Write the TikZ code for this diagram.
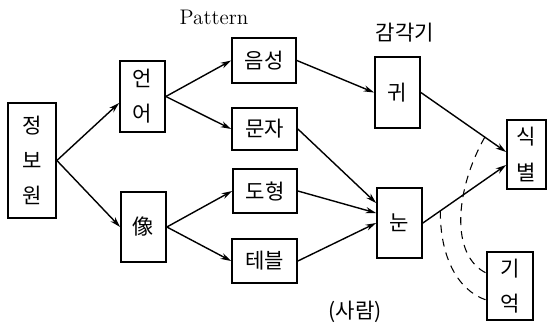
\documentclass[tikz,border=0pt]{standalone}
\usepackage{fontspec}
\newfontfamily\kr{Noto Sans CJK KR}
\usetikzlibrary{arrows.meta}
\tikzset{
	every node/.style = {font=\kr\fontsize{12pt}{20pt}\selectfont}
}
\tikzset{
	box/.style = {draw, line width=1pt, inner sep=0pt, align=center},
	flow/.style = {line width=0.8pt, -{Stealth[length=6pt, width=3.5pt]}},
	recall/.style = {line width=0.6pt, dash pattern=on 4.5pt off 3.5pt}
}

\begin{document}
\begin{tikzpicture}[x=0.02cm, y=-0.02cm]
        % one unit = one pixel of the 551 x 328 sheet, y runs downwards
        \useasboundingbox (0,0) rectangle (551,328);

        % source, kinds of information and patterns
        \node[box, minimum width=0.96cm, minimum height=2.3cm] (src) at (32,160.5) {정\\보\\원};
        \node[box, minimum width=0.9cm, minimum height=1.42cm] (lang) at (142.5,96.5) {언\\어};
        \node[box, minimum width=0.9cm, minimum height=1.4cm] (img) at (143.5,227) {像};
        \node[box, minimum width=1.28cm, minimum height=0.9cm] (voice) at (264,60.5) {음성};
        \node[box, minimum width=1.3cm, minimum height=0.84cm] (letter) at (264.5,129) {문자};
        \node[box, minimum width=1.28cm, minimum height=0.88cm] (figure) at (265,191) {도형};
        \node[box, minimum width=1.3cm, minimum height=0.88cm] (table) at (264.5,261) {테블};

        % sense organs, recognition and memory
        \node[box, minimum width=0.9cm, minimum height=1.42cm] (ear) at (397.5,92.5) {귀};
        \node[box, minimum width=0.9cm, minimum height=1.4cm] (eye) at (399.5,223) {눈};
        \node[box, minimum width=0.78cm, minimum height=1.38cm] (ident) at (526.5,154.5) {식\\별};
        \node[box, minimum width=0.92cm, minimum height=1.36cm] (mem) at (510,286) {기\\억};

        % headings
        \node[font=\rmfamily\large] (pattern) at (214,17) {Pattern};
        \node (organ) at (405,33) {감각기};
        \node (human) at (355,312) {(사람)};

        % flow of information
        \draw[flow] (src.east) -- ([yshift=-0.13cm]lang.west);
        \draw[flow] (src.east) -- (img.west);
        \draw[flow] (lang.east) -- (voice.west);
        \draw[flow] (lang.east) -- (letter.west);
        \draw[flow] (img.east) -- (figure.west);
        \draw[flow] (img.east) -- (table.west);
        \draw[flow] (voice.east) -- (ear.west);
        \draw[flow] (letter.east) -- ([yshift=0.4cm]eye.west);
        \draw[flow] (figure.east) -- ([yshift=0.2cm]eye.west);
        \draw[flow] (table.east) -- (eye.west);
        \draw[flow] (ear.east) -- coordinate[pos=0.75] (tapA) ([yshift=0.05cm]ident.west);
        \draw[flow] (eye.east) -- coordinate[pos=0.21] (tapB) ([yshift=-0.21cm]ident.west);

        % memory taps
        \draw[recall] (tapA) .. controls (455,190) and (450,255) .. ([yshift=0.26cm]mem.west);
        \draw[recall] (tapB) .. controls (440,256) and (457,290) .. ([yshift=-0.28cm]mem.west);
\end{tikzpicture}
\end{document}
